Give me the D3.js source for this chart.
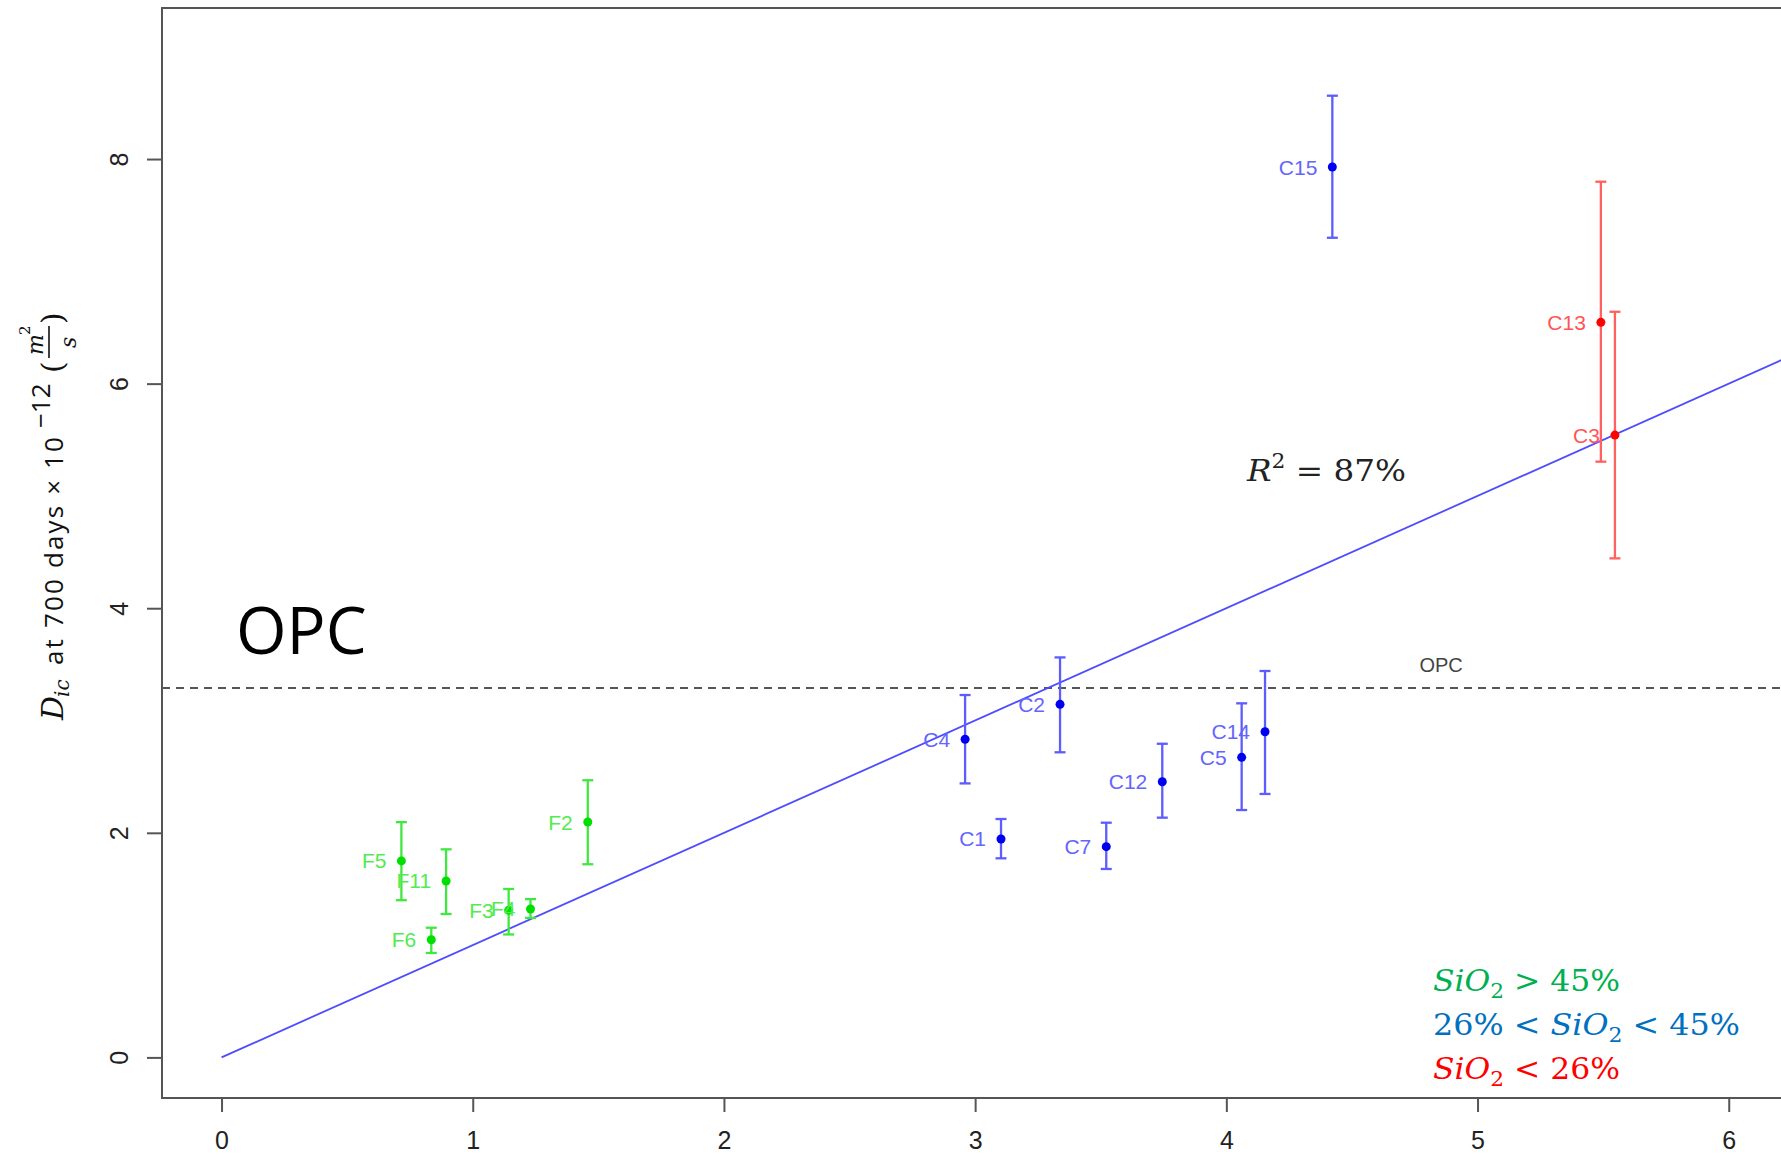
<!DOCTYPE html>
<html>
<head>
<meta charset="utf-8">
<script src="https://cdn.jsdelivr.net/npm/d3@7"></script>
<style>
  body { margin: 0; background: #fff; }
  svg { display: block; }
</style>
</head>
<body>
<svg id="chart" width="1781" height="1157"></svg>
<script>
// Binder samples: SiO2 class, x position, D_ic at 700 days with its error range
const sampleNames = ["F5", "F11", "F6", "F3", "F4", "F2",
                     "C4", "C2", "C1", "C7", "C12", "C5", "C14", "C15", "C13", "C3"];
const sampleClass = ["high", "high", "high", "high", "high", "high",
                     "mid", "mid", "mid", "mid", "mid", "mid", "mid", "mid", "low", "low"];
const xValues  = [0.716, 0.894, 0.835, 1.143, 1.230, 1.458,
                  2.960, 3.338, 3.103, 3.522, 3.745, 4.061, 4.154, 4.422, 5.491, 5.547];
const dicValues = [1.750, 1.571, 1.048, 1.310, 1.322, 2.096,
                   2.833, 3.144, 1.945, 1.877, 2.455, 2.672, 2.900, 7.929, 6.546, 5.542];
const dicLow   = [1.400, 1.277, 0.930, 1.095, 1.242, 1.720,
                  2.440, 2.717, 1.773, 1.678, 2.135, 2.203, 2.346, 7.299, 5.305, 4.444];
const dicHigh  = [2.095, 1.853, 1.155, 1.500, 1.410, 2.468,
                  3.227, 3.562, 2.123, 2.090, 2.793, 3.153, 3.441, 8.564, 7.798, 6.640];

const xTicks = [0, 1, 2, 3, 4, 5, 6];
const yTicks = [0, 2, 4, 6, 8];
const opcLevel = 3.29;      // reference OPC value (dashed line)
const fitSlope = 1.0;       // regression through the origin
const fitR2 = "87%";

const classColors = {
  high: { point: "#00e000", bar: "#3fe83f", label: "#50ec50" },
  mid:  { point: "#0000f0", bar: "#5c5cff", label: "#6464ff" },
  low:  { point: "#ff0000", bar: "#ff6060", label: "#ff5555" }
};
const legendLines = [
  { color: "#00b050", parts: [["SiO", "i"], ["2", "sub"], [" > 45%", ""]], width: 187 },
  { color: "#0070c0", parts: [["26% < ", ""], ["SiO", "i"], ["2", "sub"], [" < 45%", ""]], width: 307 },
  { color: "#ff0000", parts: [["SiO", "i"], ["2", "sub"], [" < 26%", ""]], width: 187 }
];

const samples = sampleNames.map((name, i) => ({
  name, cls: sampleClass[i], x: xValues[i], y: dicValues[i], lo: dicLow[i], hi: dicHigh[i]
}));

const svg = d3.select("#chart");
const frame = { left: 162, top: 8, bottom: 1098 };
const x = d3.scaleLinear().domain([-0.237, 6.31]).range([frame.left, frame.left + 6.547 * 251.2]);
const y = d3.scaleLinear().domain([-0.3615, 9.345]).range([frame.bottom, frame.top]);
const frameRight = x.range()[1];

svg.append("defs").append("clipPath").attr("id", "plotArea")
  .append("rect").attr("x", frame.left).attr("y", frame.top)
  .attr("width", frameRight - frame.left).attr("height", frame.bottom - frame.top);

const plot = svg.append("g").attr("clip-path", "url(#plotArea)");

// OPC reference level
plot.append("line")
  .attr("x1", frame.left).attr("x2", frameRight)
  .attr("y1", y(opcLevel)).attr("y2", y(opcLevel))
  .attr("stroke", "#555").attr("stroke-width", 2).attr("stroke-dasharray", "8,6");

svg.append("text")
  .attr("x", x(4.855)).attr("y", y(opcLevel) - 16)
  .attr("text-anchor", "middle")
  .attr("font-family", "Liberation Sans, Arial, sans-serif").attr("font-size", 20)
  .attr("fill", "#444").text("OPC");

// regression line through the origin
plot.append("line")
  .attr("x1", x(0)).attr("y1", y(0))
  .attr("x2", x(6.5)).attr("y2", y(6.5 * fitSlope))
  .attr("stroke", "#4d4dff").attr("stroke-width", 1.8);

// error bars
const bars = plot.append("g").selectAll("g").data(samples).join("g")
  .attr("stroke", d => classColors[d.cls].bar).attr("stroke-width", 2.3);
bars.append("line")
  .attr("x1", d => x(d.x)).attr("x2", d => x(d.x))
  .attr("y1", d => y(d.lo)).attr("y2", d => y(d.hi));
bars.append("line")
  .attr("x1", d => x(d.x) - 5.5).attr("x2", d => x(d.x) + 5.5)
  .attr("y1", d => y(d.hi)).attr("y2", d => y(d.hi));
bars.append("line")
  .attr("x1", d => x(d.x) - 5.5).attr("x2", d => x(d.x) + 5.5)
  .attr("y1", d => y(d.lo)).attr("y2", d => y(d.lo));

// sample means
plot.append("g").selectAll("circle").data(samples).join("circle")
  .attr("cx", d => x(d.x)).attr("cy", d => y(d.y)).attr("r", 4.5)
  .attr("fill", d => classColors[d.cls].point);

// sample names, left of each point
svg.append("g").selectAll("text").data(samples).join("text")
  .attr("x", d => x(d.x) - 15).attr("y", d => y(d.y) + 7.5)
  .attr("text-anchor", "end")
  .attr("font-family", "Liberation Sans, Arial, sans-serif").attr("font-size", 21)
  .attr("fill", d => classColors[d.cls].label)
  .text(d => d.name);

// frame
svg.append("rect")
  .attr("x", frame.left).attr("y", frame.top)
  .attr("width", frameRight - frame.left).attr("height", frame.bottom - frame.top)
  .attr("fill", "none").attr("stroke", "#555").attr("stroke-width", 2);

// x axis
const xAxis = svg.append("g").attr("transform", `translate(0,${frame.bottom})`)
  .call(d3.axisBottom(x).tickValues(xTicks).tickSize(14).tickPadding(19).tickFormat(d3.format("d")));
xAxis.select(".domain").remove();
xAxis.selectAll(".tick line").attr("stroke", "#555").attr("stroke-width", 2);
xAxis.selectAll(".tick text")
  .attr("font-family", "Liberation Sans, Arial, sans-serif").attr("font-size", 25).attr("fill", "#222");

// y axis with rotated labels
const yAxis = svg.append("g").attr("transform", `translate(${frame.left},0)`)
  .call(d3.axisLeft(y).tickValues(yTicks).tickSize(15).tickFormat(d3.format("d")));
yAxis.select(".domain").remove();
yAxis.selectAll(".tick line").attr("stroke", "#555").attr("stroke-width", 2);
yAxis.selectAll(".tick text")
  .attr("x", null).attr("dy", null)
  .attr("transform", "translate(-34,0) rotate(-90)")
  .attr("text-anchor", "middle")
  .attr("font-family", "Liberation Sans, Arial, sans-serif").attr("font-size", 25).attr("fill", "#222");

// y axis title: D_ic at 700 days × 10^-12 (m²/s)
const yt = svg.append("g").attr("transform", "translate(63,720) rotate(-90)").attr("fill", "#111");
const serif = "DejaVu Serif, Liberation Serif, serif";
const sans = "Open Sans, Liberation Sans, sans-serif";
yt.append("text").attr("x", 0).attr("y", 0).attr("font-family", serif)
  .attr("font-style", "italic").attr("font-size", 30).text("D");
yt.append("text").attr("x", 23).attr("y", 6).attr("font-family", serif)
  .attr("font-style", "italic").attr("font-size", 20).text("ic");
yt.append("text").attr("x", 55).attr("y", 0).attr("font-family", sans)
  .attr("font-size", 26).attr("textLength", 228).attr("lengthAdjust", "spacing")
  .text("at 700 days × 10");
yt.append("text").attr("x", 292).attr("y", -13).attr("font-family", sans)
  .attr("font-size", 26).text("−12");
yt.append("text").attr("x", 347).attr("y", 0).attr("font-family", serif)
  .attr("font-size", 30).text("(");
yt.append("text").attr("x", 365).attr("y", -20).attr("font-family", serif)
  .attr("font-style", "italic").attr("font-size", 22).text("m");
yt.append("text").attr("x", 385).attr("y", -33).attr("font-family", serif)
  .attr("font-size", 15).text("2");
yt.append("line").attr("x1", 362).attr("x2", 394).attr("y1", -14).attr("y2", -14)
  .attr("stroke", "#111").attr("stroke-width", 1.6);
yt.append("text").attr("x", 372).attr("y", 13).attr("font-family", serif)
  .attr("font-style", "italic").attr("font-size", 22).text("s");
yt.append("text").attr("x", 396).attr("y", 0).attr("font-family", serif)
  .attr("font-size", 30).text(")");

// OPC caption
svg.append("text").attr("x", 236).attr("y", 654)
  .attr("font-family", sans).attr("font-size", 65).attr("fill", "#000").text("OPC");

// goodness of fit
const r2 = svg.append("text").attr("x", 1247).attr("y", 481)
  .attr("font-family", serif).attr("font-size", 30).attr("fill", "#222")
  .attr("textLength", 159).attr("lengthAdjust", "spacingAndGlyphs");
r2.append("tspan").attr("font-style", "italic").text("R");
r2.append("tspan").attr("font-size", 20).attr("dy", -13).text("2");
r2.append("tspan").attr("dy", 13).text(" = " + fitR2);

// SiO2 class legend
legendLines.forEach((line, i) => {
  const t = svg.append("text").attr("x", 1433).attr("y", 991 + i * 44)
    .attr("font-family", serif).attr("font-size", 29).attr("fill", line.color)
    .attr("textLength", line.width).attr("lengthAdjust", "spacingAndGlyphs");
  line.parts.forEach(([str, kind]) => {
    const s = t.append("tspan").text(str);
    if (kind === "i") s.attr("font-style", "italic");
    if (kind === "sub") s.attr("font-size", 20).attr("dy", 7);
    if (kind === "" && str.startsWith(" ") && line.parts.some(p => p[1] === "sub")) s.attr("dy", -7);
  });
});
</script>
</body>
</html>
